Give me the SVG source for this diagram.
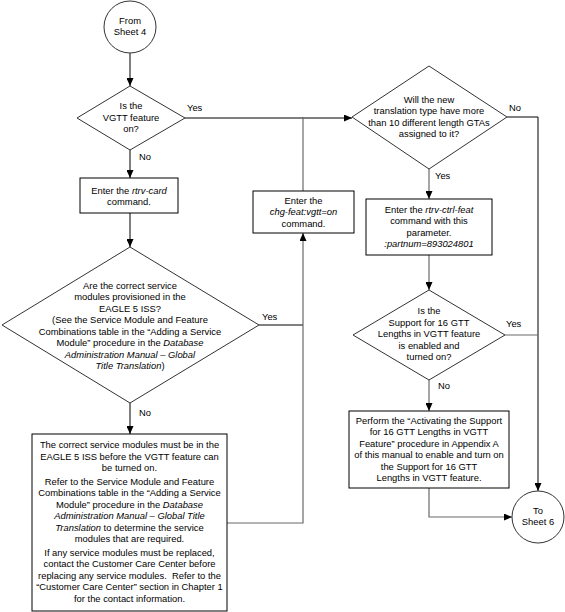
<svg xmlns="http://www.w3.org/2000/svg" width="565" height="612" viewBox="0 0 565 612">
<defs>
<marker id="ah" markerUnits="userSpaceOnUse" markerWidth="8" markerHeight="7" refX="8" refY="3.5" orient="auto">
<path d="M0,0 L8,3.5 L0,7 z" fill="#000"/>
</marker>
</defs>
<style>
text{font-family:"Liberation Sans",Arial,sans-serif;font-size:9.4px;fill:#000;text-anchor:middle}
.lbl{text-anchor:start}
.i{font-style:italic}
.box{fill:#fff;stroke:#000;stroke-width:1}
.dia{fill:#fff;stroke:#333;stroke-width:1}
.circ{fill:#fff;stroke:#333;stroke-width:1}
.c{fill:none;stroke:#000;stroke-width:1}
.g{fill:none;stroke:#6a6a6a;stroke-width:1.2}
.a{marker-end:url(#ah)}
</style>
<rect width="565" height="612" fill="#fff"/>
<g id="connectors">
<path class="c a" d="M130,53 V86"/>
<path class="c a" d="M185,118 H352"/>
<path class="c a" d="M130,150 V178"/>
<path class="c a" d="M130,213 V247"/>
<path class="c" d="M259,325 H303"/>
<path class="c a" d="M130,403 V434"/>
<path class="g a" d="M227,523 H303 V233"/>
<path class="g" d="M303,191 V117"/>
<path class="c a" d="M507,117 H538 V491"/>
<path class="g a" d="M429,169 V199"/>
<path class="g a" d="M429,255 V290"/>
<path class="g" d="M505,335 H538"/>
<path class="g a" d="M429,380 V411"/>
<path class="g a" d="M429,488 V517 H512"/>
<text class="lbl" x="187" y="111">Yes</text>
<text class="lbl" x="139" y="160">No</text>
<text class="lbl" x="262" y="320">Yes</text>
<text class="lbl" x="139" y="416">No</text>
<text class="lbl" x="509" y="111">No</text>
<text class="lbl" x="435" y="179">Yes</text>
<text class="lbl" x="506" y="327">Yes</text>
<text class="lbl" x="438" y="389">No</text>
</g>
<g id="from-sheet-4">
<circle class="circ" cx="130" cy="27" r="26"/>
<text x="130" y="23.5">From</text>
<text x="130" y="35">Sheet 4</text>
</g>
<g id="vgtt-on">
<polygon class="dia" points="130,86 185,118 130,150 77,118"/>
<text x="131" y="109">Is the</text>
<text x="131" y="120.5">VGTT feature</text>
<text x="131" y="132">on?</text>
</g>
<g id="rtrv-card">
<rect class="box" x="80" y="178" width="98" height="35"/>
<text x="129" y="193.5">Enter the <tspan class="i">rtrv-card</tspan></text>
<text x="129" y="205">command.</text>
</g>
<g id="service-modules">
<polygon class="dia" points="130,247 259,325 130,403 2,325"/>
<text x="130" y="288.5">Are the correct service</text>
<text x="130" y="300">modules provisioned in the</text>
<text x="130" y="311.5">EAGLE 5 ISS?</text>
<text x="130" y="323">(See the Service Module and Feature</text>
<text x="130" y="334.5">Combinations table in the “Adding a Service</text>
<text x="130" y="346">Module” procedure in the <tspan class="i">Database</tspan></text>
<text x="130" y="357.5" class="i">Administration Manual – Global</text>
<text x="130" y="369"><tspan class="i">Title Translation</tspan>)</text>
</g>
<g id="modules-required">
<rect class="box" x="32" y="434" width="195" height="177"/>
<text x="129.5" y="448">The correct service modules must be in the</text>
<text x="129.5" y="459.5">EAGLE 5 ISS before the VGTT feature can</text>
<text x="129.5" y="471">be turned on.</text>
<text x="129.5" y="484.5">Refer to the Service Module and Feature</text>
<text x="129.5" y="496">Combinations table in the “Adding a Service</text>
<text x="129.5" y="507.5">Module” procedure in the <tspan class="i">Database</tspan></text>
<text x="129.5" y="519" class="i">Administration Manual – Global Title</text>
<text x="129.5" y="530.5"><tspan class="i">Translation</tspan> to determine the service</text>
<text x="129.5" y="542">modules that are required.</text>
<text x="129.5" y="555.5">If any service modules must be replaced,</text>
<text x="129.5" y="567">contact the Customer Care Center before</text>
<text x="129.5" y="578.5">replacing any service modules.&#160; Refer to the</text>
<text x="129.5" y="590">“Customer Care Center” section in Chapter 1</text>
<text x="129.5" y="601.5">for the contact information.</text>
</g>
<g id="chg-feat">
<rect class="box" x="253" y="191" width="101" height="42"/>
<text x="303.5" y="203.5">Enter the</text>
<text x="303.5" y="215" class="i">chg-feat:vgtt=on</text>
<text x="303.5" y="226.5">command.</text>
</g>
<g id="more-than-10">
<polygon class="dia" points="429,66 507,117 429,169 352,117"/>
<text x="429" y="102.5">Will the new</text>
<text x="429" y="114">translation type have more</text>
<text x="429" y="125.5">than 10 different length GTAs</text>
<text x="429" y="137">assigned to it?</text>
</g>
<g id="rtrv-ctrl-feat">
<rect class="box" x="366" y="199" width="126" height="56"/>
<text x="429" y="212.5">Enter the <tspan class="i">rtrv-ctrl-feat</tspan></text>
<text x="429" y="224">command with this</text>
<text x="429" y="235.5">parameter.</text>
<text x="429" y="247" class="i">:partnum=893024801</text>
</g>
<g id="support-16-gtt">
<polygon class="dia" points="429,290 505,335 429,380 353,335"/>
<text x="429" y="314">Is the</text>
<text x="429" y="325.5">Support for 16 GTT</text>
<text x="429" y="337">Lengths in VGTT feature</text>
<text x="429" y="348.5">is enabled and</text>
<text x="429" y="360">turned on?</text>
</g>
<g id="activate-support">
<rect class="box" x="349" y="411" width="160" height="77"/>
<text x="429" y="423.5">Perform the “Activating the Support</text>
<text x="429" y="435">for 16 GTT Lengths in VGTT</text>
<text x="429" y="446.5">Feature” procedure in Appendix A</text>
<text x="429" y="458">of this manual to enable and turn on</text>
<text x="429" y="469.5">the Support for 16 GTT</text>
<text x="429" y="481">Lengths in VGTT feature.</text>
</g>
<g id="to-sheet-6">
<circle class="circ" cx="538" cy="517" r="26"/>
<text x="538" y="513.5">To</text>
<text x="538" y="525">Sheet 6</text>
</g>
</svg>
